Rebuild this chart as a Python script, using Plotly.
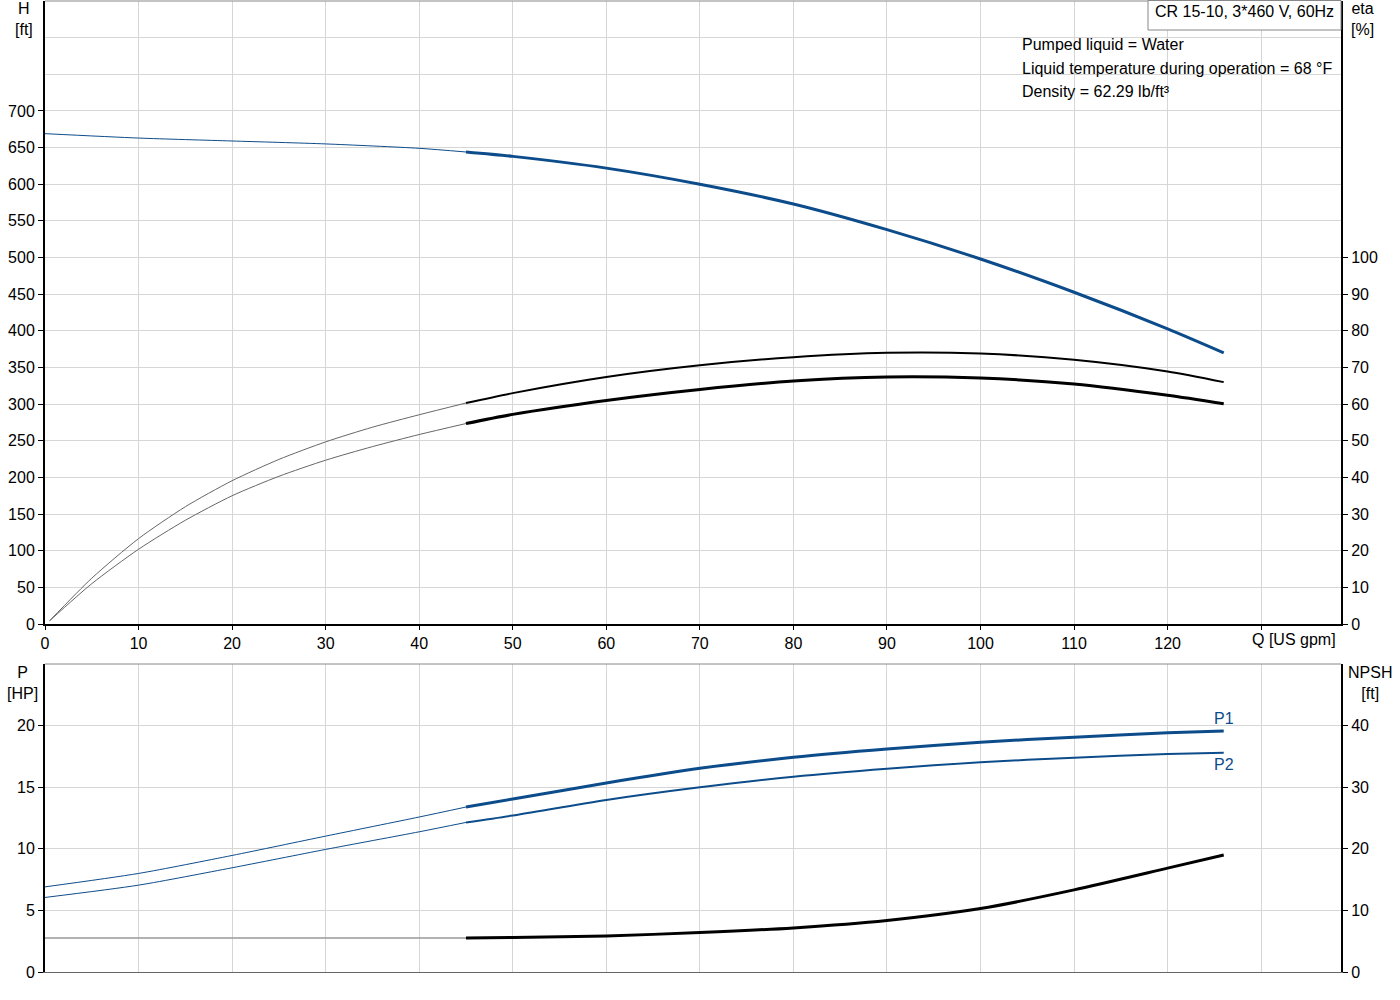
import plotly.graph_objects as go

# flow [US gpm] - split into the thin (low flow) part and the thick (operating) part
q_low = [0, 10, 20, 30, 40, 45]
q_high = [45, 50, 60, 70, 80, 90, 100, 110, 120, 126]
q_eta_low = [0.5, 5, 10, 15, 20, 25, 30, 35, 40, 45]

# head H [ft]
h_low = [669, 663, 659, 655, 649, 644]
h_high = [644, 638, 622, 600, 573, 538, 498, 452.6, 402.7, 370]

# efficiencies [%]
eta1_low = [0.9, 12.5, 23.3, 32.0, 39.1, 44.9, 49.7, 53.7, 57.1, 60.3]
eta1_high = [60.3, 63.0, 67.4, 70.6, 72.8, 74.0, 73.8, 72.1, 68.9, 66.0]
eta2_low = [0.9, 11.0, 20.4, 28.3, 35.0, 40.3, 44.7, 48.4, 51.7, 54.7]
eta2_high = [54.7, 57.2, 61.0, 64.0, 66.3, 67.4, 67.1, 65.5, 62.4, 60.1]

# power [HP]
p1_low = [6.91, 8.0, 9.46, 11.03, 12.58, 13.39]
p1_high = [13.39, 14.04, 15.34, 16.53, 17.43, 18.1, 18.65, 19.06, 19.41, 19.57]
p2_low = [6.05, 7.05, 8.46, 9.95, 11.38, 12.14]
p2_high = [12.14, 12.7, 13.96, 14.99, 15.85, 16.5, 17.02, 17.4, 17.7, 17.8]

# NPSH [ft]
npsh_low = [5.53, 5.53, 5.53, 5.53, 5.53, 5.53]
npsh_high = [5.53, 5.6, 5.86, 6.4, 7.16, 8.36, 10.3, 13.33, 16.86, 19.0]

x_ticks = list(range(0, 140, 10))
x_labels = [str(v) for v in range(0, 130, 10)] + [""]
h_ticks = list(range(0, 750, 50))
eta_ticks = list(range(0, 110, 10))
p_ticks = [0, 5, 10, 15, 20]
npsh_ticks = [0, 10, 20, 30, 40]

info_lines = ["Pumped liquid = Water",
              "Liquid temperature during operation = 68 °F",
              "Density = 62.29 lb/ft³"]

BLUE = "#0d4c8b"
GRID = "#d6d6d6"
FONT = "Arial, Liberation Sans, sans-serif"
FS = 16

# page geometry (pixels)
W, H = 1400, 1000
L, R, T, B = 45, 59, 1, 28
PW, PH = W - L - R, H - T - B


def px(xp):
    return (xp - L) / PW


def py(yp):
    return (H - B - yp) / PH


fig = go.Figure()


def curve(x, y, xa, ya, color, width):
    fig.add_trace(go.Scatter(x=x, y=y, xaxis=xa, yaxis=ya, mode="lines",
                             line=dict(color=color, width=width, shape="spline", smoothing=0.7),
                             hoverinfo="skip", showlegend=False))


curve(q_low, h_low, "x", "y", BLUE, 1)
curve(q_high, h_high, "x", "y", BLUE, 3)
curve(q_eta_low, eta1_low, "x", "y2", "#666666", 1)
curve(q_high, eta1_high, "x", "y2", "black", 2)
curve(q_eta_low, eta2_low, "x", "y2", "#666666", 1)
curve(q_high, eta2_high, "x", "y2", "black", 3)

curve(q_low, p1_low, "x2", "y3", BLUE, 1)
curve(q_high, p1_high, "x2", "y3", BLUE, 3)
curve(q_low, p2_low, "x2", "y3", BLUE, 1)
curve(q_high, p2_high, "x2", "y3", BLUE, 2)
curve(q_low, npsh_low, "x2", "y4", "#999999", 1.5)
curve(q_high, npsh_high, "x2", "y4", "black", 3)

tick_font = dict(family=FONT, size=FS, color="black")
x_range = [0, PW / 9.355]

fig.update_layout(
    width=W, height=H,
    margin=dict(l=L, r=R, t=T, b=B),
    paper_bgcolor="white", plot_bgcolor="white",
    font=tick_font,
    xaxis=dict(domain=[0, 1], anchor="y", range=x_range, tickvals=x_ticks, ticktext=x_labels,
               showgrid=True, gridcolor=GRID, gridwidth=1, zeroline=False,
               showline=True, linecolor="black", linewidth=2,
               ticks="outside", ticklen=4, tickcolor="black", tickfont=tick_font),
    yaxis=dict(domain=[py(624), 1], anchor="x", range=[0, 850], tickvals=h_ticks,
               showgrid=True, gridcolor=GRID, gridwidth=1, zeroline=False,
               showline=True, linecolor="black", linewidth=2,
               ticks="outside", ticklen=5, tickcolor="black", tickfont=tick_font,
               minor=dict(tickvals=[750, 800], showgrid=True, gridcolor=GRID, gridwidth=1, ticks="")),
    yaxis2=dict(overlaying="y", side="right", anchor="x", range=[0, 170], tickvals=eta_ticks,
                showgrid=False, zeroline=False,
                showline=True, linecolor="black", linewidth=2,
                ticks="outside", ticklen=5, tickcolor="black", tickfont=tick_font),
    xaxis2=dict(domain=[0, 1], anchor="y3", range=x_range, tickvals=x_ticks,
                showticklabels=False, showgrid=True, gridcolor=GRID, gridwidth=1, zeroline=False,
                showline=True, linecolor="#666666", linewidth=1, ticks=""),
    yaxis3=dict(domain=[0, py(664)], anchor="x2", range=[0, 25], tickvals=p_ticks,
                showgrid=True, gridcolor=GRID, gridwidth=1, zeroline=False,
                showline=True, linecolor="black", linewidth=2,
                ticks="outside", ticklen=5, tickcolor="black", tickfont=tick_font),
    yaxis4=dict(overlaying="y3", side="right", anchor="x2", range=[0, 50], tickvals=npsh_ticks,
                showgrid=False, zeroline=False,
                showline=True, linecolor="black", linewidth=2,
                ticks="outside", ticklen=5, tickcolor="black", tickfont=tick_font),
)

# gray top borders of both plot areas
for yref in ["y domain", "y3 domain"]:
    fig.add_shape(type="line", xref="x domain", yref=yref, x0=0, x1=1, y0=1, y1=1,
                  line=dict(color="#888888", width=1))

# title box
fig.add_shape(type="rect", xref="paper", yref="paper", x0=px(1148), x1=1, y0=py(30), y1=py(0.5),
              line=dict(color="#888888", width=1), fillcolor="white")
fig.add_annotation(xref="paper", yref="paper", x=px(1244), y=py(12), text="CR 15-10, 3*460 V, 60Hz",
                   xanchor="center", yanchor="middle", showarrow=False,
                   font=dict(family=FONT, size=FS, color="black"))

for i, line in enumerate(info_lines):
    fig.add_annotation(xref="paper", yref="paper", x=px(1020), y=py(44 + 24 * i), text=line,
                       xanchor="left", yanchor="middle", showarrow=False,
                       font=dict(family=FONT, size=FS, color="black"))

# flow axis label sits right of the last tick
fig.add_annotation(xref="paper", yref="paper", x=px(1250), y=py(639), text="Q [US gpm]",
                   xanchor="left", yanchor="middle", showarrow=False,
                   font=dict(family=FONT, size=FS, color="black"))

# axis titles
titles = [("H<br>[ft]", 24, -2), ("eta<br>[%]", 1362, -2), ("P<br>[HP]", 22, 662), ("NPSH<br>[ft]", 1370, 662)]
for text, xp, yp in titles:
    fig.add_annotation(xref="paper", yref="paper", x=px(xp), y=py(yp), text=text,
                       xanchor="center", yanchor="top", showarrow=False,
                       font=dict(family=FONT, size=FS, color="black"))

# P1 / P2 labels at the curve ends
fig.add_annotation(xref="x2", yref="y3", x=q_high[-1], y=p1_high[-1], text="P1", showarrow=False,
                   xanchor="center", yanchor="bottom", yshift=2, font=dict(family=FONT, size=FS, color=BLUE))
fig.add_annotation(xref="x2", yref="y3", x=q_high[-1], y=p2_high[-1], text="P2", showarrow=False,
                   xanchor="center", yanchor="top", yshift=-1, font=dict(family=FONT, size=FS, color=BLUE))

fig.write_html("out.html", config={"displayModeBar": False},
               post_script="document.body.style.margin = '0px';")
